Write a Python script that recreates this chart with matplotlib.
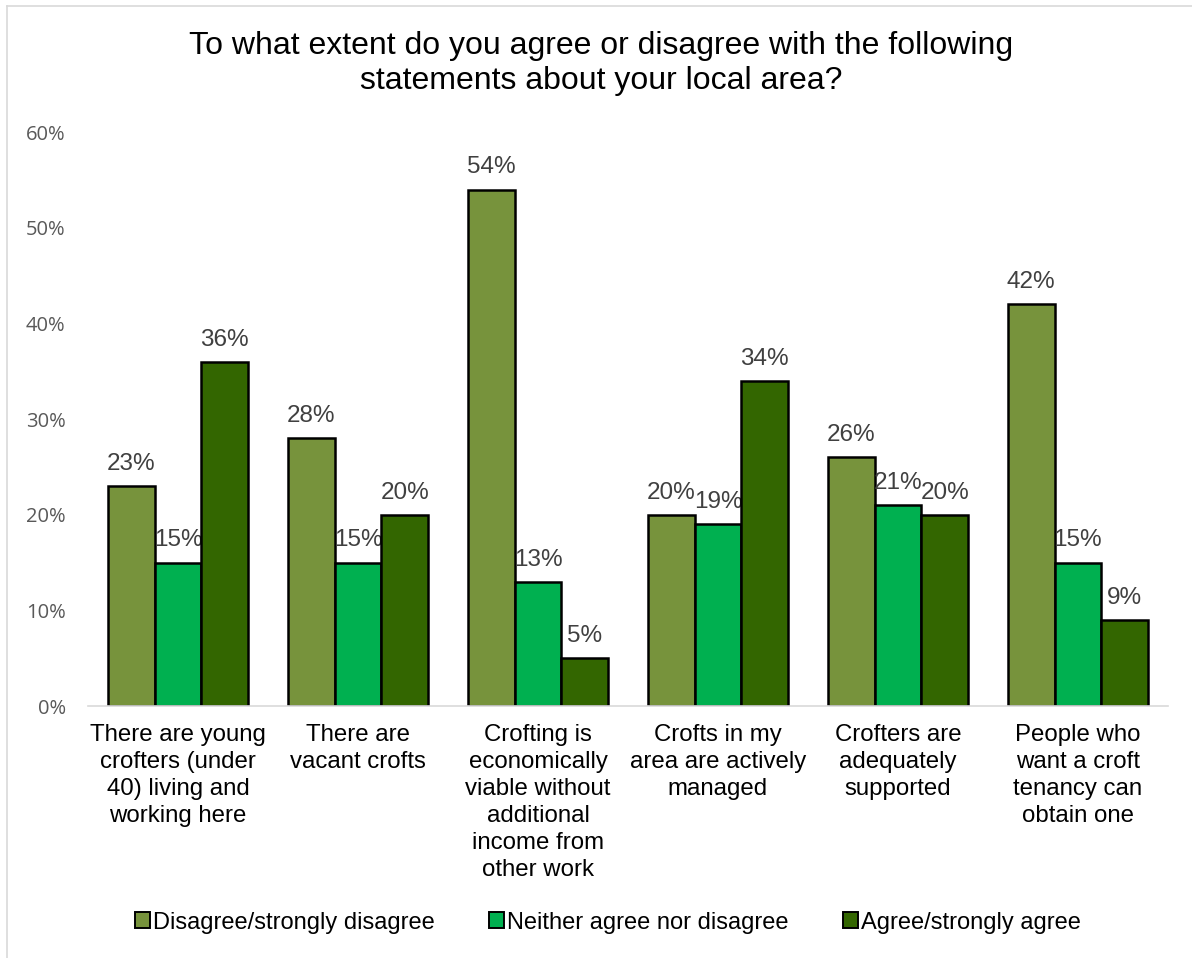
import numpy as np
import matplotlib.pyplot as plt
from matplotlib.lines import Line2D
from matplotlib.patches import Patch

# survey responses, share of respondents per statement
statements = [
    "There are young\ncrofters (under\n40) living and\nworking here",
    "There are\nvacant crofts",
    "Crofting is\neconomically\nviable without\nadditional\nincome from\nother work",
    "Crofts in my\narea are actively\nmanaged",
    "Crofters are\nadequately\nsupported",
    "People who\nwant a croft\ntenancy can\nobtain one",
]
disagree = [23, 28, 54, 20, 26, 42]
neither = [15, 15, 13, 19, 21, 15]
agree = [36, 20, 5, 34, 20, 9]

series = ["Disagree/strongly disagree", "Neither agree nor disagree", "Agree/strongly agree"]
colors = ["#77933C", "#00B050", "#336600"]

plt.rcParams['font.family'] = ['Liberation Sans', 'DejaVu Sans']

fig = plt.figure(figsize=(11.92, 9.58), dpi=100)
ax = fig.add_axes([0.0738, 0.263, 0.906, 0.599])

x = np.arange(len(statements))
w = 0.26
for i, (vals, col) in enumerate(zip([disagree, neither, agree], colors)):
    pos = x + (i - 1) * w
    vals = np.array(vals) / 100
    ax.bar(pos, vals, width=w, color=col, edgecolor="black", linewidth=1.8, zorder=3)
    for px, v in zip(pos, vals):
        ax.annotate(f"{v:.0%}", (px, v), xytext=(0, 8), textcoords="offset points",
                    ha="center", va="bottom", fontsize=17.5, color="#404040")

ax.set_xlim(-0.5, len(statements) - 0.5)
ax.set_ylim(0, 0.6)
ax.set_yticks(np.arange(0, 0.61, 0.1))
ax.set_yticklabels([f"{int(t)}%" for t in np.arange(0, 61, 10)],
                   fontsize=14.5, color="#595959", family="Open Sans")
ax.set_xticks(x)
ax.set_xticklabels(statements, fontsize=17.3, color="black", linespacing=1.29, va="top")
ax.tick_params(axis="both", length=0)
ax.tick_params(axis="y", pad=16)
ax.tick_params(axis="x", pad=13)
for s in ["top", "right", "left"]:
    ax.spines[s].set_visible(False)
ax.spines["bottom"].set_color("#D9D9D9")
ax.spines["bottom"].set_linewidth(1.2)
ax.spines["bottom"].set_zorder(4)

fig.text(0.504, 0.968, "To what extent do you agree or disagree with the following\nstatements about your local area?",
         ha="center", va="top", fontsize=23, linespacing=1.22)

handles = [Patch(facecolor=c, edgecolor="black", linewidth=1.4) for c in colors]
leg = fig.legend(handles, series, loc="center", bbox_to_anchor=(0.51, 0.037), ncol=3,
                 frameon=False, handlelength=0.65, handleheight=0.65, handletextpad=0.12,
                 columnspacing=2.3, prop={"size": 17})

# light chart border along the top and left edges
fig.add_artist(Line2D([0.0059, 1.0], [0.9937, 0.9937], color="#D9D9D9", linewidth=1.2))
fig.add_artist(Line2D([0.0059, 0.0059], [0.0, 0.9937], color="#D9D9D9", linewidth=1.2))

fig.savefig("out.png", dpi=100)
